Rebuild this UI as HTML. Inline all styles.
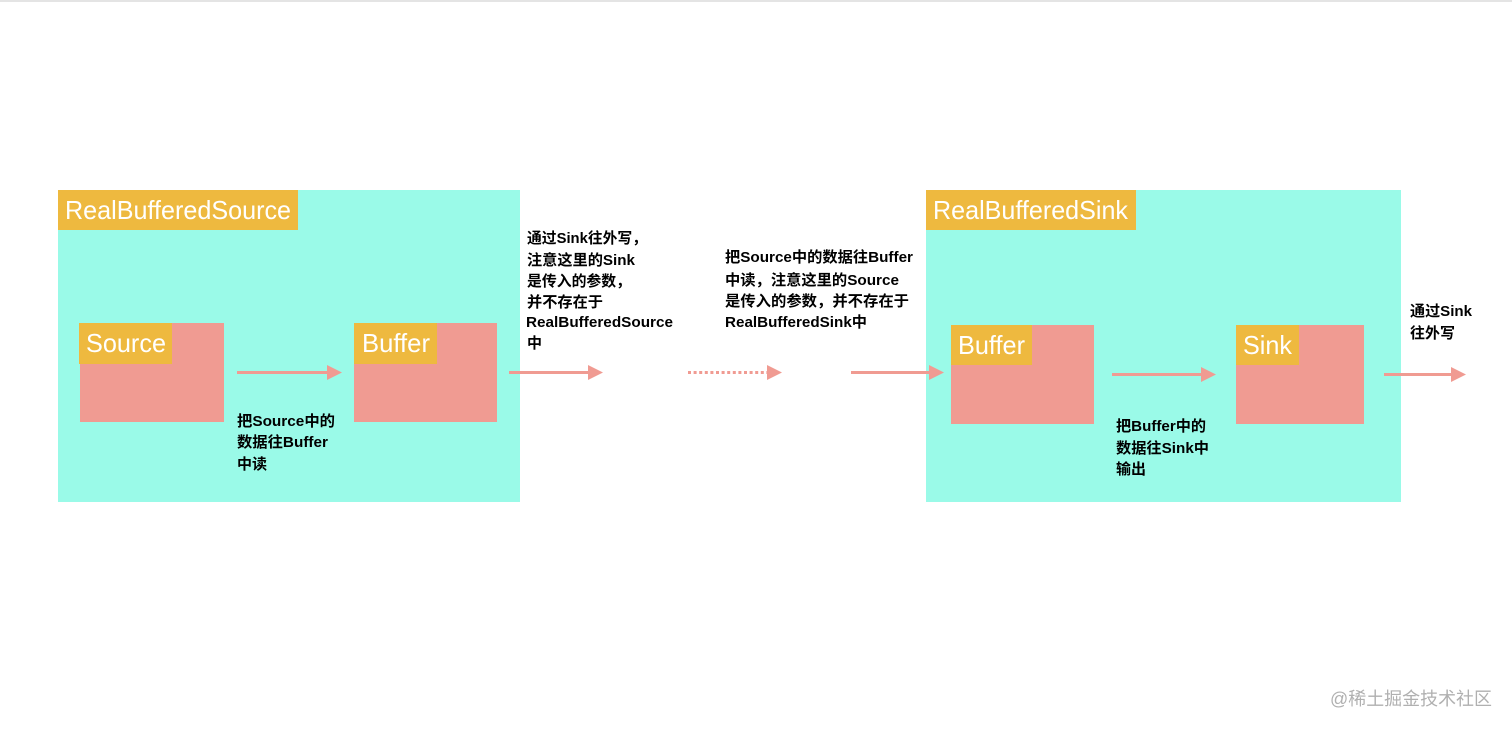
<!DOCTYPE html>
<html lang="zh">
<head>
<meta charset="utf-8">
<title>RealBufferedSource and RealBufferedSink</title>
<style>
html,body{margin:0;padding:0;background:#fff;width:1512px;height:730px;overflow:hidden}
svg{display:block;filter:blur(.35px)}
text{font-family:"Liberation Sans","Noto Sans CJK SC",sans-serif}
.t{fill:#fff;font-size:26px}
.n{fill:#000;font-size:15px;font-weight:bold}
</style>
</head>
<body>
<svg width="1512" height="730" viewBox="0 0 1512 730" xmlns="http://www.w3.org/2000/svg">
<rect x="0" y="0" width="1512" height="2" fill="#e4e4e4"/>

<rect x="58" y="190" width="462" height="312" fill="#9afae8"/>
<rect x="926" y="190" width="475" height="312" fill="#9afae8"/>

<rect x="80" y="323" width="144" height="99" fill="#f09b92"/>
<rect x="354" y="323" width="143" height="99" fill="#f09b92"/>
<rect x="951" y="325" width="143" height="99" fill="#f09b92"/>
<rect x="1236" y="325" width="128" height="99" fill="#f09b92"/>

<rect x="58" y="190" width="240" height="40" fill="#eeb93f"/>
<rect x="926" y="190" width="210" height="40" fill="#eeb93f"/>
<rect x="79" y="323" width="93" height="41" fill="#eeb93f"/>
<rect x="354" y="323" width="83" height="41" fill="#eeb93f"/>
<rect x="951" y="325" width="81" height="40" fill="#eeb93f"/>
<rect x="1236" y="325" width="63" height="40" fill="#eeb93f"/>

<text class="t" x="65" y="219" textLength="226" lengthAdjust="spacingAndGlyphs">RealBufferedSource</text>
<text class="t" x="933" y="219" textLength="195" lengthAdjust="spacingAndGlyphs">RealBufferedSink</text>
<text class="t" x="86" y="352" textLength="80" lengthAdjust="spacingAndGlyphs">Source</text>
<text class="t" x="362" y="352" textLength="68" lengthAdjust="spacingAndGlyphs">Buffer</text>
<text class="t" x="958" y="354" textLength="67" lengthAdjust="spacingAndGlyphs">Buffer</text>
<text class="t" x="1243" y="354" textLength="49" lengthAdjust="spacingAndGlyphs">Sink</text>

<g stroke="#f09b92" stroke-width="3" fill="none">
<line x1="237" y1="372.5" x2="330" y2="372.5"/>
<line x1="509" y1="372.5" x2="590" y2="372.5"/>
<line x1="688" y1="372.5" x2="768" y2="372.5" stroke-dasharray="3 2.6"/>
<line x1="851" y1="372.5" x2="932" y2="372.5"/>
<line x1="1112" y1="374.5" x2="1204" y2="374.5"/>
<line x1="1384" y1="374.5" x2="1454" y2="374.5"/>
</g>
<g fill="#f09b92">
<polygon points="327,365 342,372.5 327,380"/>
<polygon points="588,365 603,372.5 588,380"/>
<polygon points="767,365 782,372.5 767,380"/>
<polygon points="929,365 944,372.5 929,380"/>
<polygon points="1201,367 1216,374.5 1201,382"/>
<polygon points="1451,367 1466,374.5 1451,382"/>
</g>

<text class="n" x="527" y="243" textLength="120" lengthAdjust="spacingAndGlyphs">通过Sink往外写，</text>
<text class="n" x="527" y="265" textLength="108" lengthAdjust="spacingAndGlyphs">注意这里的Sink</text>
<text class="n" x="527" y="286" textLength="104" lengthAdjust="spacingAndGlyphs">是传入的参数，</text>
<text class="n" x="527" y="307" textLength="76" lengthAdjust="spacingAndGlyphs">并不存在于</text>
<text class="n" x="526" y="327" textLength="147" lengthAdjust="spacingAndGlyphs">RealBufferedSource</text>
<text class="n" x="527" y="348" textLength="15" lengthAdjust="spacingAndGlyphs">中</text>

<text class="n" x="237" y="426" textLength="98" lengthAdjust="spacingAndGlyphs">把Source中的</text>
<text class="n" x="237" y="447" textLength="91" lengthAdjust="spacingAndGlyphs">数据往Buffer</text>
<text class="n" x="237" y="469" textLength="30" lengthAdjust="spacingAndGlyphs">中读</text>

<text class="n" x="725" y="262" textLength="188" lengthAdjust="spacingAndGlyphs">把Source中的数据往Buffer</text>
<text class="n" x="725" y="285" textLength="174" lengthAdjust="spacingAndGlyphs">中读，注意这里的Source</text>
<text class="n" x="725" y="306" textLength="184" lengthAdjust="spacingAndGlyphs">是传入的参数，并不存在于</text>
<text class="n" x="725" y="327" textLength="142" lengthAdjust="spacingAndGlyphs">RealBufferedSink中</text>

<text class="n" x="1116" y="431" textLength="90" lengthAdjust="spacingAndGlyphs">把Buffer中的</text>
<text class="n" x="1116" y="453" textLength="93" lengthAdjust="spacingAndGlyphs">数据往Sink中</text>
<text class="n" x="1116" y="474" textLength="30" lengthAdjust="spacingAndGlyphs">输出</text>

<text class="n" x="1410" y="316" textLength="62" lengthAdjust="spacingAndGlyphs">通过Sink</text>
<text class="n" x="1410" y="338" textLength="45" lengthAdjust="spacingAndGlyphs">往外写</text>

<text x="1330" y="705" font-size="18" fill="#b0b0b0" textLength="162" lengthAdjust="spacingAndGlyphs">@稀土掘金技术社区</text>
</svg>
</body>
</html>
